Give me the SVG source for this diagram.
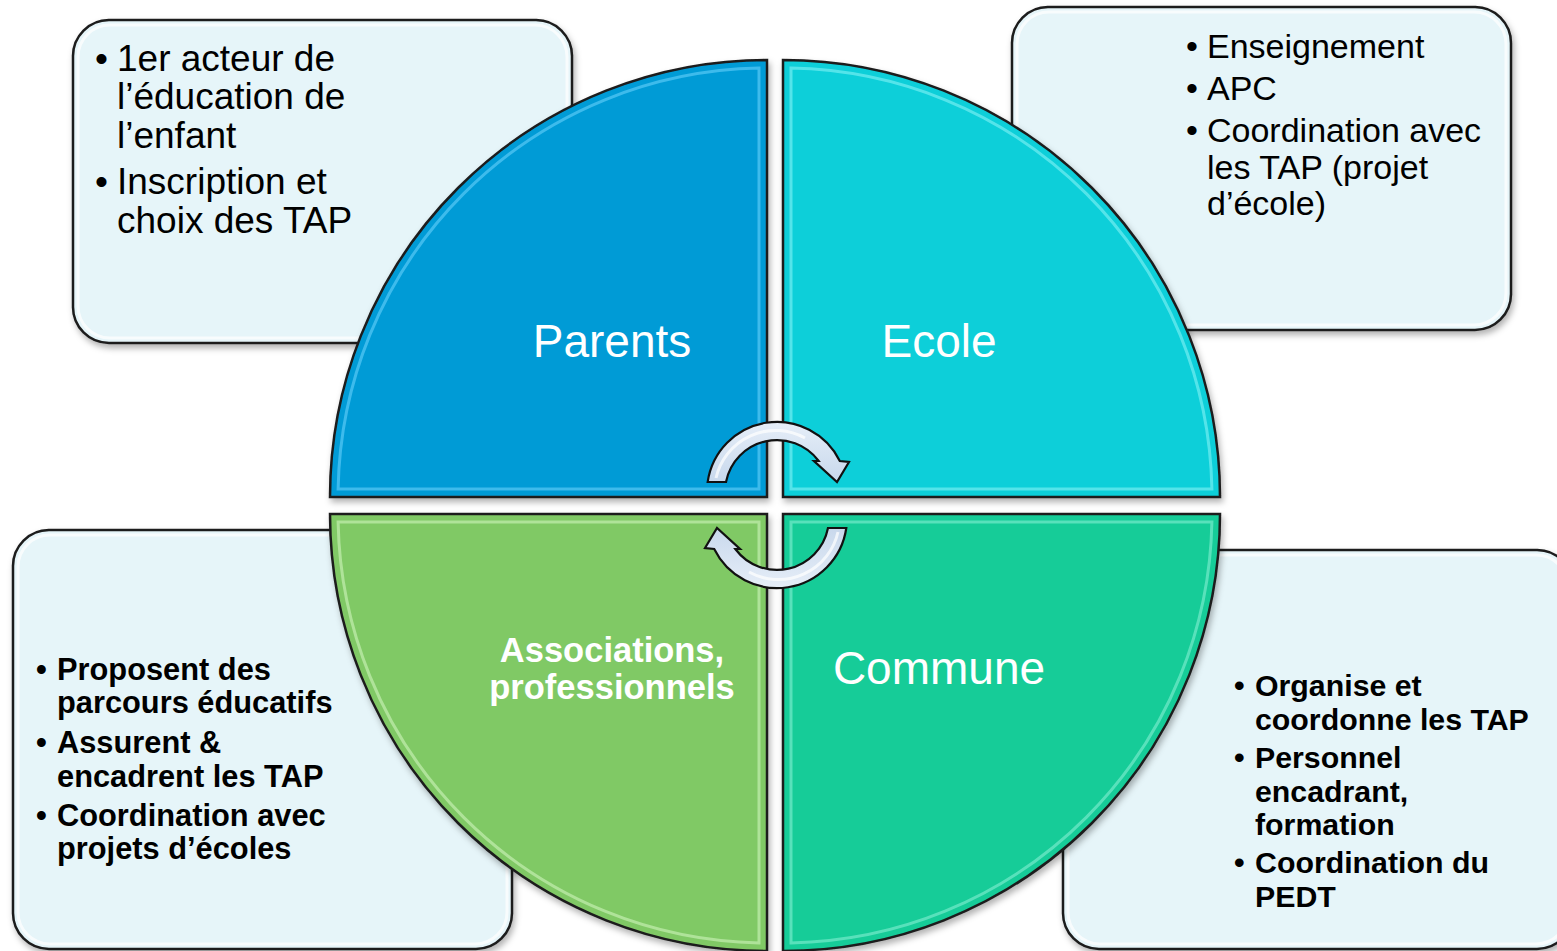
<svg xmlns="http://www.w3.org/2000/svg" width="1557" height="951" viewBox="0 0 1557 951">
<style>
.box{fill:#e6f5f9;stroke:#1c1c1c;stroke-width:2.5}
.boxhl{fill:none;stroke:#ffffff;stroke-width:3;opacity:.7}
.q{stroke:#1c1c1c;stroke-width:2.5}
.hl{fill:none;stroke-width:3;opacity:.55}
.t{font-family:"Liberation Sans",Arial,sans-serif;fill:#000}
.tb{font-family:"Liberation Sans",Arial,sans-serif;fill:#000;font-weight:bold}
.lab{font-family:"Liberation Sans",Arial,sans-serif;fill:#fff;text-anchor:middle}
.arrow{fill:url(#ag);stroke:#111;stroke-width:2.2;stroke-linejoin:miter}
</style>
<defs>
<filter id="sh" x="-10%" y="-10%" width="120%" height="120%">
<feDropShadow dx="2" dy="4" stdDeviation="3" flood-color="#000" flood-opacity="0.3"/>
</filter>
<linearGradient id="ag" x1="0" y1="0" x2="0" y2="1">
<stop offset="0" stop-color="#e6eef8"/>
<stop offset="1" stop-color="#c8d8ec"/>
</linearGradient>
<path id="arr" d="M707.7,482 A70,70 0 0 1 839.8,461 L849,462 L837,482 L814,461 L818.7,461 A52,52 0 0 0 726,482 Z"/>
</defs>
<rect width="1557" height="951" fill="#ffffff"/>

<g id="box-parents">
<rect class="box" x="73" y="20" width="499" height="323" rx="36" filter="url(#sh)"/>
<rect class="boxhl" x="78" y="25" width="489" height="313" rx="32"/>
<text class="t" font-size="37"><tspan x="95" y="71">•</tspan><tspan x="117" y="71">1er acteur de</tspan><tspan x="117" y="109">l’éducation de</tspan><tspan x="117" y="148">l’enfant</tspan><tspan x="95" y="194">•</tspan><tspan x="117" y="194">Inscription et</tspan><tspan x="117" y="233">choix des TAP</tspan></text>
</g>

<g id="box-ecole">
<rect class="box" x="1012" y="7" width="499" height="323" rx="36" filter="url(#sh)"/>
<rect class="boxhl" x="1017" y="12" width="489" height="313" rx="32"/>
<text class="t" font-size="34"><tspan x="1186" y="58">•</tspan><tspan x="1207" y="58">Enseignement</tspan><tspan x="1186" y="100">•</tspan><tspan x="1207" y="100">APC</tspan><tspan x="1186" y="142">•</tspan><tspan x="1207" y="142">Coordination avec</tspan><tspan x="1207" y="179">les TAP (projet</tspan><tspan x="1207" y="215">d’école)</tspan></text>
</g>

<g id="box-associations">
<rect class="box" x="13" y="530" width="499" height="419" rx="36" filter="url(#sh)"/>
<rect class="boxhl" x="18" y="535" width="489" height="409" rx="32"/>
<text class="tb" font-size="30.8"><tspan x="36" y="680">•</tspan><tspan x="57" y="680">Proposent des</tspan><tspan x="57" y="713">parcours éducatifs</tspan><tspan x="36" y="753">•</tspan><tspan x="57" y="753">Assurent &amp;</tspan><tspan x="57" y="787">encadrent les TAP</tspan><tspan x="36" y="826">•</tspan><tspan x="57" y="826">Coordination avec</tspan><tspan x="57" y="859">projets d’écoles</tspan></text>
</g>

<g id="box-commune">
<rect class="box" x="1063" y="550" width="510" height="399" rx="36" filter="url(#sh)"/>
<rect class="boxhl" x="1068" y="555" width="500" height="389" rx="32"/>
<text class="tb" font-size="30.3"><tspan x="1234" y="696">•</tspan><tspan x="1255" y="696">Organise et</tspan><tspan x="1255" y="730">coordonne les TAP</tspan><tspan x="1234" y="768">•</tspan><tspan x="1255" y="768">Personnel</tspan><tspan x="1255" y="802">encadrant,</tspan><tspan x="1255" y="835">formation</tspan><tspan x="1234" y="873">•</tspan><tspan x="1255" y="873">Coordination du</tspan><tspan x="1255" y="907">PEDT</tspan></text>
</g>

<g id="q-parents">
<path class="q" fill="#049bd6" filter="url(#sh)" d="M767,497 L330,497 A437,437 0 0 1 767,60 Z"/>
<path class="hl" stroke="#6fd6ff" d="M759,489 L338.1,489 A429,429 0 0 1 759,68.1 Z"/>
<text class="lab" x="612" y="357" font-size="46">Parents</text>
</g>

<g id="q-ecole">
<path class="q" fill="#0dcfd9" filter="url(#sh)" d="M783,497 L783,60 A437,437 0 0 1 1220,497 Z"/>
<path class="hl" stroke="#8ff5f8" d="M791,489 L791,68.1 A429,429 0 0 1 1211.9,489 Z"/>
<text class="lab" x="939" y="357" font-size="46">Ecole</text>
</g>

<g id="q-associations">
<path class="q" fill="#80c965" filter="url(#sh)" d="M767,514 L767,951 A437,437 0 0 1 330,514 Z"/>
<path class="hl" stroke="#d6f7c4" d="M759,522 L759,942.9 A429,429 0 0 1 338.1,522 Z"/>
<text class="lab" font-size="34.5" font-weight="bold"><tspan x="612" y="662">Associations,</tspan><tspan x="612" y="699">professionnels</tspan></text>
</g>

<g id="q-commune">
<path class="q" fill="#16cc98" filter="url(#sh)" d="M783,514 L1220,514 A437,437 0 0 1 783,951 Z"/>
<path class="hl" stroke="#8ff3d8" d="M791,522 L1211.9,522 A429,429 0 0 1 791,942.9 Z"/>
<text class="lab" x="939" y="684" font-size="46">Commune</text>
</g>

<g id="connectors">
<use href="#arr" class="arrow"/>
<path d="M716,478 A61,61 0 0 1 805,438" fill="none" stroke="#ffffff" stroke-width="3" opacity="0.7"/>
<use href="#arr" class="arrow" transform="rotate(180 777 505)"/>
<path d="M716,478 A61,61 0 0 1 805,438" fill="none" stroke="#ffffff" stroke-width="3" opacity="0.7" transform="rotate(180 777 505)"/>
</g>
</svg>
